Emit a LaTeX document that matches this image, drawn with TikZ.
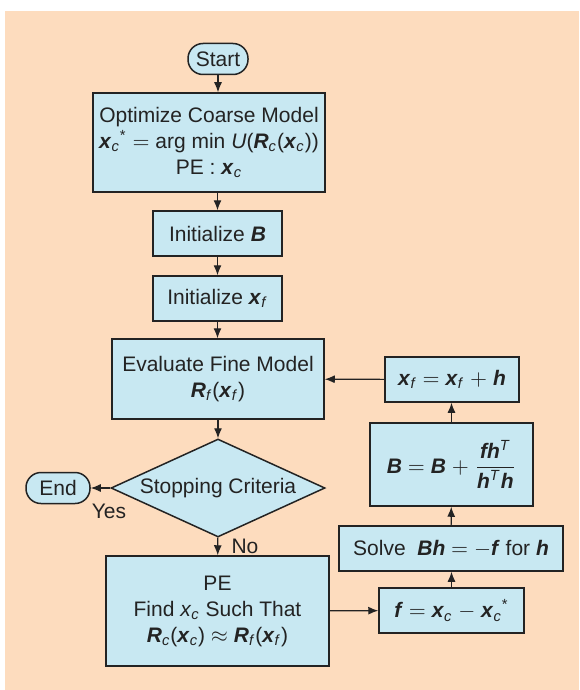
\documentclass[tikz,border=0pt]{standalone}
\usepackage{amsmath}
\usepackage{fontspec}
\setmainfont{Liberation Sans}
\definecolor{peach}{RGB}{253,220,190}
\definecolor{boxblue}{RGB}{200,232,242}
\definecolor{inkgray}{RGB}{35,35,35}
\usetikzlibrary{arrows.meta,positioning,shapes.geometric}
\newcommand{\vecb}[1]{\textbf{\textit{#1}}}
\newcommand{\idx}[1]{\textsubscript{\textit{#1}}}

\begin{document}
\begin{tikzpicture}[x=0.5pt,y=-0.5pt,
  every node/.style={text=inkgray,font=\fontsize{10.5}{13}\selectfont},
  flowbox/.style={draw=inkgray,fill=boxblue,line width=0.75pt,align=center,inner sep=2pt},
  pill/.style={flowbox,rounded corners=7.5pt,minimum height=15.5pt},
  decide/.style={flowbox,diamond,aspect=2.2,inner sep=0pt,minimum width=107pt,minimum height=49pt},
  lbl/.style={inner sep=1pt},
  arr/.style={draw=inkgray,line width=0.6pt,-{Latex[length=5pt,width=4pt]}}
]
  \useasboundingbox (0,0) rectangle (579,690);
  \fill[peach] (5,11) rectangle (579,690);

  % Main column
  \node[pill,minimum width=30pt] (start) at (218,59) {Start};
  \node[flowbox,minimum width=116pt,minimum height=49.5pt] (opt) at (209,142.5)
    {Optimize Coarse Model\\
     \vecb{x}\idx{c}\textsuperscript{*} $=$ arg min \textit{U}(\vecb{R}\idx{c}(\vecb{x}\idx{c}))\\
     PE : \vecb{x}\idx{c}};
  \node[flowbox,minimum width=64.5pt,minimum height=22.5pt] (initB) at (217.5,233.5) {Initialize \vecb{B}};
  \node[flowbox,minimum width=64.5pt,minimum height=22.5pt] (initX) at (217.5,298.5) {Initialize \vecb{x}\idx{f}};
  \node[flowbox,minimum width=106pt,minimum height=40pt] (eval) at (218,379)
    {Evaluate Fine Model\\ \vecb{R}\idx{f}(\vecb{x}\idx{f})};
  \node[decide] (stop) at (218,488) {Stopping Criteria};
  \node[pill,minimum width=32pt] (endn) at (58,488) {End};
  \node[flowbox,minimum width=111.5pt,minimum height=55pt] (pe) at (217.5,611)
    {PE\\ Find \textit{x}\idx{c} Such That\\
     \vecb{R}\idx{c}(\vecb{x}\idx{c}) $\approx$ \vecb{R}\idx{f}(\vecb{x}\idx{f})};

  % Update column
  \node[flowbox,minimum width=72.5pt,minimum height=22.5pt] (fbox) at (451.5,610.5)
    {\vecb{f} $=$ \vecb{x}\idx{c} $-$ \vecb{x}\idx{c}\textsuperscript{*}};
  \node[flowbox,minimum width=112pt,minimum height=22.5pt] (solve) at (451,548.5)
    {Solve~~\vecb{Bh} $=$ $-$\vecb{f} for \vecb{h}};
  \node[flowbox,minimum width=81.5pt,minimum height=41.5pt] (Bbox) at (451.5,464.5)
    {\vecb{B} $=$ \vecb{B} $+$ $\dfrac{\mbox{\vecb{fh}\textsuperscript{\textit{T}}}}{\mbox{\vecb{h}\textsuperscript{\textit{T}}\vecb{h}}}$};
  \node[flowbox,minimum width=67pt,minimum height=22.5pt] (xbox) at (452,379.5)
    {\vecb{x}\idx{f} $=$ \vecb{x}\idx{f} $+$ \vecb{h}};

  % Labels
  \node[lbl] (yes) at (109,511) {Yes};
  \node[lbl] (no) at (245,546) {No};

  % Connectors
  \draw[arr] (start) -- (start |- opt.north);
  \draw[arr] (initB |- opt.south) -- (initB);
  \draw[arr] (initB) -- (initX);
  \draw[arr] (initX) -- (initX |- eval.north);
  \draw[arr] (eval) -- (stop);
  \draw[arr] (stop.west) -- (endn);
  \draw[arr] (stop) -- (pe);
  \draw[arr] (pe) -- (fbox);
  \draw[arr] (fbox) -- (fbox |- solve.south);
  \draw[arr] (solve) -- (Bbox);
  \draw[arr] (Bbox) -- (Bbox |- xbox.south);
  \draw[arr] (xbox) -- (eval);
\end{tikzpicture}
\end{document}
